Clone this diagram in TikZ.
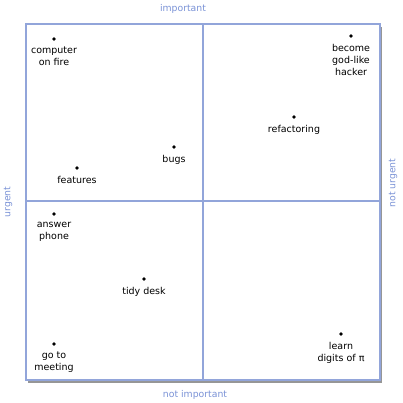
\documentclass[tikz,border=0pt]{standalone}
\usepackage{fontspec}
\setmainfont{DejaVu Sans}
\usetikzlibrary{positioning, shadows}
\definecolor{gridblue}{RGB}{146,165,218}
\definecolor{axisblue}{RGB}{122,146,214}
\tikzset{
    x=1pt, y=1pt, % one unit is one pixel of the reference
    frame/.style={draw=gridblue, line width=2.2pt, fill=white,
        drop shadow={shadow xshift=1.5pt, shadow yshift=-3pt, opacity=0.55, fill=black!75}}, % outer box of the matrix
    divider/.style={draw=gridblue, line width=2.2pt}, % the two middle lines
    dot/.style={circle, fill=black, inner sep=0pt, minimum size=3.8pt}, % marks a task
    task/.style={font=\fontsize{9.5}{12}\selectfont, align=center, inner sep=0pt}, % text under a mark
    axis/.style={font=\fontsize{9.3}{12}\selectfont, text=axisblue, inner sep=0pt}, % side labels
    node distance=6pt, % gap between a mark and its text
}
\begin{document}
\begin{tikzpicture}
\useasboundingbox (0,0) rectangle (402,403);
\filldraw[frame] (26,23) rectangle (380,379);
\draw[divider] (203,23) -- (203,379);
\draw[divider] (26,202) -- (380,202);
% axis labels
\node[axis] (imp) at (183,394) {important};
\node[axis] (notimp) at (195,8) {not important};
\node[axis, rotate=90] (urg) at (8,201) {urgent};
\node[axis, rotate=90] (noturg) at (393,220) {not urgent};
% tasks
\node[dot] (fire) at (54,364) {};
\node[task, below=of fire] (firetext) {computer\\on fire};
\node[dot] (bugs) at (174,256) {};
\node[task, below=of bugs] (bugstext) {bugs};
\node[dot] (feat) at (77,235) {};
\node[task, below=of feat] (feattext) {features};
\node[dot] (hack) at (351,367) {};
\node[task, below=of hack] (hacktext) {become\\god-like\\hacker};
\node[dot] (refac) at (294,286) {};
\node[task, below=of refac] (refactext) {refactoring};
\node[dot] (phone) at (54,189) {};
\node[task, below=of phone] (phonetext) {answer\\phone};
\node[dot] (desk) at (144,124) {};
\node[task, below=of desk] (desktext) {tidy desk};
\node[dot] (meet) at (54,59) {};
\node[task, below=of meet] (meettext) {go to\\meeting};
\node[dot] (pi) at (341,69) {};
\node[task, below=of pi] (pitext) {learn\\digits of π};
\end{tikzpicture}
\end{document}
